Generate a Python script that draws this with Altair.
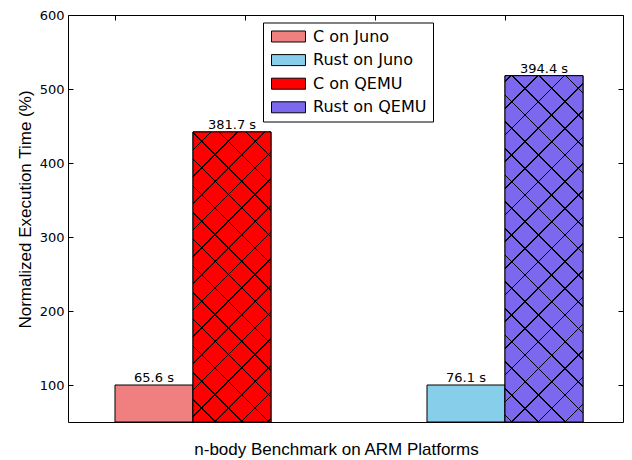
import altair as alt
import pandas as pd

# ---- data ----
series = ["C on Juno", "Rust on Juno", "C on QEMU", "Rust on QEMU"]
language = ["C", "Rust", "C", "Rust"]
platform = ["Juno", "Juno", "QEMU", "QEMU"]
normalized = [100, 100, 442, 518]
seconds = [65.6, 76.1, 381.7, 394.4]
colors = ["#F08080", "#87CEEB", "#FF0000", "#7B68EE"]
y_ticks = [100, 200, 300, 400, 500, 600]
x_ticks = [0, 0.25, 0.5, 0.75]

# ---- layout / style constants ----
W, H = 555, 407
Y_MIN, Y_MAX = 50, 600
PAD_INNER, PAD_OUTER, BAND_ALIGN = 0.5, 0.1394, 0.5402
HATCHED = ["C on QEMU", "Rust on QEMU"]
HATCH_ANCHOR = {"C on QEMU": (8.7, 36.0), "Rust on QEMU": (6.7, 26.0)}
HATCH_PERIOD = 26.67

df = pd.DataFrame({
    "series": series,
    "language": language,
    "platform": platform,
    "normalized": normalized,
    "seconds": seconds,
})
df["label"] = [f"{s:.1f} s" for s in seconds]

step = W / (2 - PAD_INNER + 2 * PAD_OUTER)
bar_w = step * (1 - PAD_INNER) / 2
px_per_unit = H / (Y_MAX - Y_MIN)


def hatch(bw, bh, kind, anchor, base, period=HATCH_PERIOD, lw=1.5):
    L = bw + bh
    S = bw ** 2 + bh ** 2
    ax, ay = anchor
    if kind == "/":
        c0 = ax + ay
        coords = dict(x1=0, y1=0, x2=bw * L / S, y2=bh * L / S)
    else:
        c0 = ax - ay + bh
        coords = dict(x1=0, y1=1, x2=bw * L / S, y2=1 - bh * L / S)
    c = c0 % period - period
    stops = [{"offset": 0, "color": base}]
    while c < L + period:
        t0 = max(0.0, min(1.0, (c - lw / 2) / L))
        t1 = max(0.0, min(1.0, (c + lw / 2) / L))
        if t1 > 0 and t0 < 1:
            stops += [
                {"offset": t0, "color": base},
                {"offset": t0, "color": "black"},
                {"offset": t1, "color": "black"},
                {"offset": t1, "color": base},
            ]
        c += period
    stops.append({"offset": 1, "color": base})
    return alt.LinearGradient(gradient="linear", stops=stops, **coords)


y_scale = alt.Scale(domain=[Y_MIN, Y_MAX], nice=False, zero=False)

x_enc = alt.X(
    "language:N",
    scale=alt.Scale(domain=["C", "Rust"], paddingInner=PAD_INNER,
                    paddingOuter=PAD_OUTER, align=BAND_ALIGN),
    axis=alt.Axis(
        title="n-body Benchmark on ARM Platforms",
        labels=False, ticks=False, domain=False, grid=False,
        titleX=268, titleY=32, titleBaseline="alphabetic", titleAlign="center",
        titleFont="Liberation Sans", titleFontSize=17, titleFontWeight="normal",
        titleColor="black",
    ),
)
xo_enc = alt.XOffset(
    "platform:N",
    scale=alt.Scale(domain=["Juno", "QEMU"], paddingInner=0, paddingOuter=0),
)
y_enc = alt.Y(
    "normalized:Q",
    scale=y_scale,
    axis=alt.Axis(
        values=y_ticks, ticks=False, domain=False, grid=False, labelPadding=4,
        labelFont="DejaVu Sans", labelFontSize=13, labelColor="black",
        title="Normalized Execution Time (%)",
        titleX=-37.5, titleY=194, titleBaseline="alphabetic", titleAlign="center",
        titleFont="Liberation Sans", titleFontSize=17, titleFontWeight="normal",
        titleColor="black",
    ),
)
y2_enc = alt.Y2(datum=Y_MIN)

base = alt.Chart(df)

bars = base.mark_bar(stroke="black", strokeWidth=1).encode(
    x=x_enc,
    xOffset=xo_enc,
    y=y_enc,
    y2=y2_enc,
    color=alt.Color(
        "series:N",
        scale=alt.Scale(domain=series, range=colors),
        legend=alt.Legend(
            title=None, orient="none", legendX=195, legendY=7.5, padding=6,
            strokeColor="black", fillColor="white", cornerRadius=0,
            symbolType="M-1,-1H5.18V1H-1Z", symbolSize=121,
            symbolStrokeColor="black", symbolStrokeWidth=1, symbolOpacity=1,
            labelFont="DejaVu Sans", labelFontSize=16, labelColor="black",
            labelOffset=28, rowPadding=7.6, labelLimit=300,
        ),
    ),
)

hatch_layers = []
for s in HATCHED:
    i = series.index(s)
    bh = (normalized[i] - Y_MIN) * px_per_unit
    g1 = hatch(bar_w, bh, "/", HATCH_ANCHOR[s], colors[i])
    g2 = hatch(bar_w, bh, "\\", HATCH_ANCHOR[s], "rgba(0,0,0,0)")
    sel = base.transform_filter(alt.datum.series == s)
    hatch_layers.append(
        sel.mark_bar(fill=g1, strokeWidth=0).encode(x=x_enc, xOffset=xo_enc, y=y_enc, y2=y2_enc)
    )
    hatch_layers.append(
        sel.mark_bar(fill=g2, stroke="black", strokeWidth=1).encode(
            x=x_enc, xOffset=xo_enc, y=y_enc, y2=y2_enc
        )
    )

labels = base.mark_text(
    font="DejaVu Sans", fontSize=13, baseline="alphabetic", dy=-3, color="black"
).encode(x=x_enc, xOffset=xo_enc, y=y_enc, text="label:N")

main = alt.layer(bars, *hatch_layers, labels)

tick_axis = dict(labels=False, domain=False, grid=False, tickSize=5,
                 tickColor="black", tickWidth=1, title=None)

yt = pd.DataFrame({"v": y_ticks})
left_ticks = alt.Chart(yt).mark_point(opacity=0).encode(
    y=alt.Y("v:Q", scale=y_scale,
            axis=alt.Axis(orient="right", offset=-W, values=y_ticks, **tick_axis))
)
right_ticks = alt.Chart(yt).mark_point(opacity=0).encode(
    y=alt.Y("v:Q", scale=y_scale,
            axis=alt.Axis(orient="left", offset=-W, values=y_ticks, **tick_axis))
)
xt = pd.DataFrame({"t": x_ticks})
top_ticks = alt.Chart(xt).mark_point(opacity=0).encode(
    x=alt.X("t:Q", scale=alt.Scale(domain=[-0.0908, 0.9765], nice=False, zero=False),
            axis=alt.Axis(orient="bottom", offset=-H, values=x_ticks, **tick_axis))
)

chart = (
    alt.layer(main, left_ticks, right_ticks, top_ticks)
    .resolve_scale(x="independent", y="independent")
    .properties(
        width=W, height=H,
        autosize=alt.AutoSizeParams(type="none"),
        padding={"left": 60, "top": 7, "right": 1, "bottom": 36},
        background="white",
    )
    .configure_view(stroke="black", strokeWidth=1)
)

chart.save("out.html", embed_options={"renderer": "svg", "actions": False})
